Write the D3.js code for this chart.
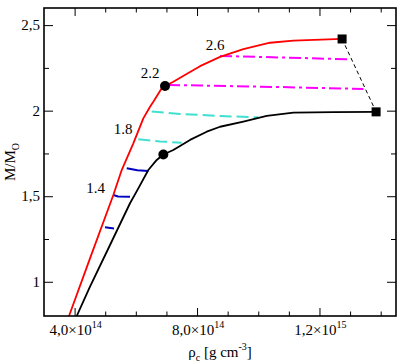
<!DOCTYPE html>
<html><head><meta charset="utf-8">
<script src="https://cdn.jsdelivr.net/npm/d3@7"></script>
<style>body{margin:0;background:#fff}svg{display:block}</style>
</head><body><svg id="c" width="400" height="364"></svg>
<script>
// densities in units of 1e14 g cm^-3, masses in M_sun
const redRho  = [3.817,4.503,5.265,5.539,5.918,6.245,6.464,6.572,6.846,6.954,7.225,7.771,8.098,8.752,9.513,10.386,11.147,12.739];
const redM    = [0.8,1.137,1.507,1.653,1.809,1.955,2.023,2.052,2.131,2.144,2.169,2.226,2.260,2.314,2.360,2.397,2.409,2.419];
const blackRho= [4.069,4.503,5.157,5.810,6.082,6.408,6.683,6.899,7.225,7.771,8.317,8.752,9.513,10.278,11.147,12.454,13.850];
const blackM  = [0.8,0.971,1.215,1.459,1.546,1.653,1.712,1.744,1.770,1.829,1.877,1.906,1.936,1.969,1.988,1.991,1.993];
const blue1Rho=[4.993,5.288], blue1M=[1.318,1.312];
const blue2Rho=[5.265,5.420,5.810], blue2M=[1.507,1.498,1.497];
const blue3Rho=[5.703,6.050,6.408], blue3M=[1.663,1.652,1.648];
const cyan1Rho=[6.082,6.791,7.500], cyan1M=[1.833,1.820,1.813];
const cyan2Rho=[6.520,7.444,8.752,10.003], cyan2M=[1.995,1.981,1.969,1.961];
const mag1Rho=[7.052,8.098,10.712,13.435], mag1M=[2.150,2.147,2.138,2.127];
const mag2Rho=[8.752,10.712,13.0], mag2M=[2.320,2.311,2.300];
const dotRho=[6.954,6.899], dotM=[2.144,1.744];
const sqRho=[12.739,13.850], sqM=[2.419,1.993];
const labelText=["2.6","2.2","1.8","1.4"];
const labelRho=[8.588,6.464,5.582,4.683];
const labelM=[2.355,2.191,1.864,1.519];
const xMajor=[4,8,12], xMajorLabel=["4,0","8,0","1,2"], xMajorExp=["14","14","15"];
const xMinor=[5,6,7,9,10,11,13,14];
const yMajor=[1,1.5,2,2.5], yMajorLabel=["1","1,5","2","2,5"];
const yMinor=[1.25,1.75,2.25];

const FONT="Liberation Serif";
const L=44,R=396,T=8,B=316;
const x=d3.scaleLinear().domain([3,14.5]).range([L,R]);
const y=d3.scaleLinear().domain([0.8,2.6]).range([B,T]);
const svg=d3.select("#c");
const pts=(a,b)=>a.map((v,i)=>[v,b[i]]);
const line=d3.line().x(d=>x(d[0])).y(d=>y(d[1]));
svg.append("clipPath").attr("id","pc").append("rect").attr("x",L).attr("y",T).attr("width",R-L).attr("height",B-T);
const g=svg.append("g").attr("clip-path","url(#pc)");

function draw(a,b,color,w,dash){
  const p=g.append("path").attr("d",line(pts(a,b))).attr("fill","none").attr("stroke",color).attr("stroke-width",w).attr("stroke-linejoin","round");
  if(dash)p.attr("stroke-dasharray",dash);
}
draw(blue1Rho,blue1M,"#0000c0",2);
draw(blue2Rho,blue2M,"#0000c0",2);
draw(blue3Rho,blue3M,"#0000c0",2);
draw(cyan1Rho,cyan1M,"#40e0d0",2,"12,5");
draw(cyan2Rho,cyan2M,"#40e0d0",2,"12,5");
draw(mag1Rho,mag1M,"#ff00ff",2,"12,4,3,4");
draw(mag2Rho,mag2M,"#ff00ff",2,"12,4,3,4");
draw(sqRho,sqM,"#000",1,"4,3");
draw(redRho,redM,"#ff0000",1.8);
draw(blackRho,blackM,"#000",1.8);

svg.selectAll("circle.d").data(pts(dotRho,dotM)).join("circle").attr("cx",d=>x(d[0])).attr("cy",d=>y(d[1])).attr("r",5).attr("fill","#000");
svg.selectAll("rect.s").data(pts(sqRho,sqM)).join("rect").attr("x",d=>x(d[0])-4.5).attr("y",d=>y(d[1])-4.5).attr("width",9).attr("height",9).attr("fill","#000");

svg.selectAll("text.lab").data(labelText).join("text").attr("class","lab").attr("font-family",FONT)
  .attr("x",(d,i)=>x(labelRho[i])).attr("y",(d,i)=>y(labelM[i])).attr("text-anchor","middle").attr("font-size",15).text(d=>d);

// axes via d3 axis generators, ticks inward
const ax=svg.append("g");
function axisG(gen,tr){return ax.append("g").attr("transform",tr).call(gen).call(s=>{s.select(".domain").remove();s.selectAll("text").remove();s.selectAll("line").attr("stroke","#000").attr("stroke-width",1);});}
axisG(d3.axisBottom(x).tickValues(xMajor).tickSizeInner(-8).tickSizeOuter(0),`translate(0,${B})`);
axisG(d3.axisBottom(x).tickValues(xMinor).tickSizeInner(-4.5).tickSizeOuter(0),`translate(0,${B})`);
axisG(d3.axisTop(x).tickValues(xMajor).tickSizeInner(-8).tickSizeOuter(0),`translate(0,${T})`);
axisG(d3.axisTop(x).tickValues(xMinor).tickSizeInner(-4.5).tickSizeOuter(0),`translate(0,${T})`);
axisG(d3.axisLeft(y).tickValues(yMajor).tickSizeInner(-9).tickSizeOuter(0),`translate(${L},0)`);
axisG(d3.axisLeft(y).tickValues(yMinor).tickSizeInner(-5).tickSizeOuter(0),`translate(${L},0)`);
axisG(d3.axisRight(y).tickValues(yMajor).tickSizeInner(-9).tickSizeOuter(0),`translate(${R},0)`);
axisG(d3.axisRight(y).tickValues(yMinor).tickSizeInner(-5).tickSizeOuter(0),`translate(${R},0)`);
svg.append("rect").attr("x",L).attr("y",T).attr("width",R-L).attr("height",B-T).attr("fill","none").attr("stroke","#000").attr("stroke-width",1.6);

// tick labels
yMajor.forEach((v,i)=>svg.append("text").attr("font-family",FONT).attr("x",L-4).attr("y",y(v)+5).attr("text-anchor","end").attr("font-size",15).text(yMajorLabel[i]));
xMajor.forEach((v,i)=>{
  const t=svg.append("text").attr("font-family",FONT).attr("x",x(v)+1).attr("y",B+19).attr("text-anchor","middle").attr("font-size",15);
  t.append("tspan").text(xMajorLabel[i]+"×10");
  t.append("tspan").attr("dy",-7).attr("font-size",10).text(xMajorExp[i]);
});
// axis titles
const xt=svg.append("text").attr("font-family",FONT).attr("x",(L+R)/2).attr("y",357).attr("text-anchor","middle").attr("font-size",15);
xt.append("tspan").text("ρ");
xt.append("tspan").attr("dy",4).attr("font-size",10).text("c");
xt.append("tspan").attr("dy",-4).text(" [g cm");
xt.append("tspan").attr("dy",-7).attr("font-size",10).text("-3");
xt.append("tspan").attr("dy",7).text("]");
const yt=svg.append("text").attr("font-family",FONT).attr("transform",`translate(15,${(T+B)/2}) rotate(-90)`).attr("text-anchor","middle").attr("font-size",15);
yt.append("tspan").text("M/M");
yt.append("tspan").attr("dy",4).attr("font-size",10).text("O");
</script></body></html>
